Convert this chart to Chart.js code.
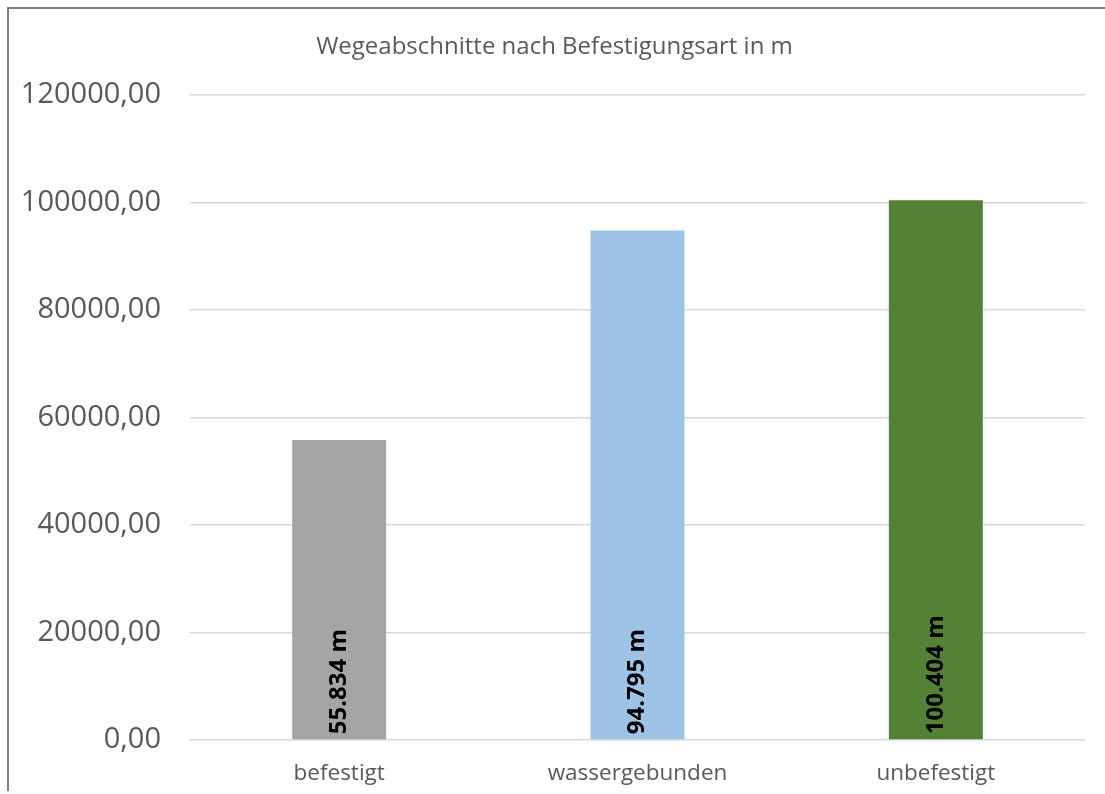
<!DOCTYPE html>
<html>
<head>
<meta charset="utf-8">
<script src="https://cdn.jsdelivr.net/npm/chart.js@4.4.1/dist/chart.umd.min.js"></script>
<style>
  html, body { margin: 0; padding: 0; background: #ffffff; }
  #wrap { position: relative; width: 1105px; height: 794px; }
  #frame {
    position: absolute; left: 7px; top: 7px; width: 1098px; height: 784px;
    border-left: 2px solid #7f7f7f; border-top: 2px solid #7f7f7f;
    box-sizing: border-box; pointer-events: none;
  }
  canvas { position: absolute; left: 0; top: 0; }
</style>
</head>
<body>
<div id="wrap">
  <canvas id="chart" width="1105" height="794"></canvas>
  <div id="frame"></div>
</div>
<script>
const categories = ["befestigt", "wassergebunden", "unbefestigt"];
const lengths = [55834, 94795, 100404];
const barColors = ["#a5a5a5", "#9dc3e6", "#548235"];
const chartTitle = "Wegeabschnitte nach Befestigungsart in m";

const FONT = "'Open Sans', 'Liberation Sans', sans-serif";

// 55834 -> "55.834 m"
function formatMeters(v) {
  return String(Math.round(v)).replace(/\B(?=(\d{3})+(?!\d))/g, ".") + " m";
}

// Titel mittig über der ganzen Fläche (nicht nur über dem Diagrammbereich)
const centeredTitle = {
  id: "centeredTitle",
  afterDraw(chart) {
    const ctx = chart.ctx;
    ctx.save();
    ctx.font = "24px " + FONT;
    ctx.fillStyle = "#595959";
    ctx.textAlign = "center";
    ctx.textBaseline = "middle";
    ctx.fillText(chartTitle, chart.width / 2 + 2, 47);
    ctx.restore();
  }
};

// Beschriftung senkrecht im Balken, unten angesetzt
const barLabels = {
  id: "barLabels",
  afterDatasetsDraw(chart) {
    const ctx = chart.ctx;
    const meta = chart.getDatasetMeta(0);
    ctx.save();
    ctx.font = "bold 24px " + FONT;
    ctx.fillStyle = "#000000";
    ctx.textAlign = "left";
    ctx.textBaseline = "middle";
    meta.data.forEach((bar, i) => {
      ctx.save();
      ctx.translate(bar.x, bar.base - 5);
      ctx.rotate(-Math.PI / 2);
      ctx.fillText(formatMeters(lengths[i]), 0, 0);
      ctx.restore();
    });
    ctx.restore();
  }
};

new Chart(document.getElementById("chart"), {
  type: "bar",
  data: {
    labels: categories,
    datasets: [{
      data: lengths,
      backgroundColor: barColors,
      borderWidth: 0,
      barPercentage: 0.315,
      categoryPercentage: 1.0
    }]
  },
  options: {
    responsive: false,
    animation: false,
    layout: { padding: { left: 0, right: 20, top: 95, bottom: 0 } },
    scales: {
      x: {
        grid: { display: false },
        border: { display: false },
        ticks: { color: "#595959", font: { family: FONT, size: 22.5 }, padding: 12 },
        afterFit(scale) { scale.height = 54; }
      },
      y: {
        min: 0,
        max: 120000,
        ticks: {
          stepSize: 20000,
          color: "#595959",
          font: { family: FONT, size: 29 },
          padding: 29,
          callback: v => v.toFixed(2).replace(".", ",")
        },
        grid: { color: "#d9d9d9", lineWidth: 1.5, drawTicks: false },
        border: { display: false },
        afterFit(scale) { scale.width = 190; }
      }
    },
    plugins: {
      legend: { display: false },
      tooltip: { enabled: false },
      title: { display: false }
    }
  },
  plugins: [barLabels, centeredTitle]
});
</script>
</body>
</html>
